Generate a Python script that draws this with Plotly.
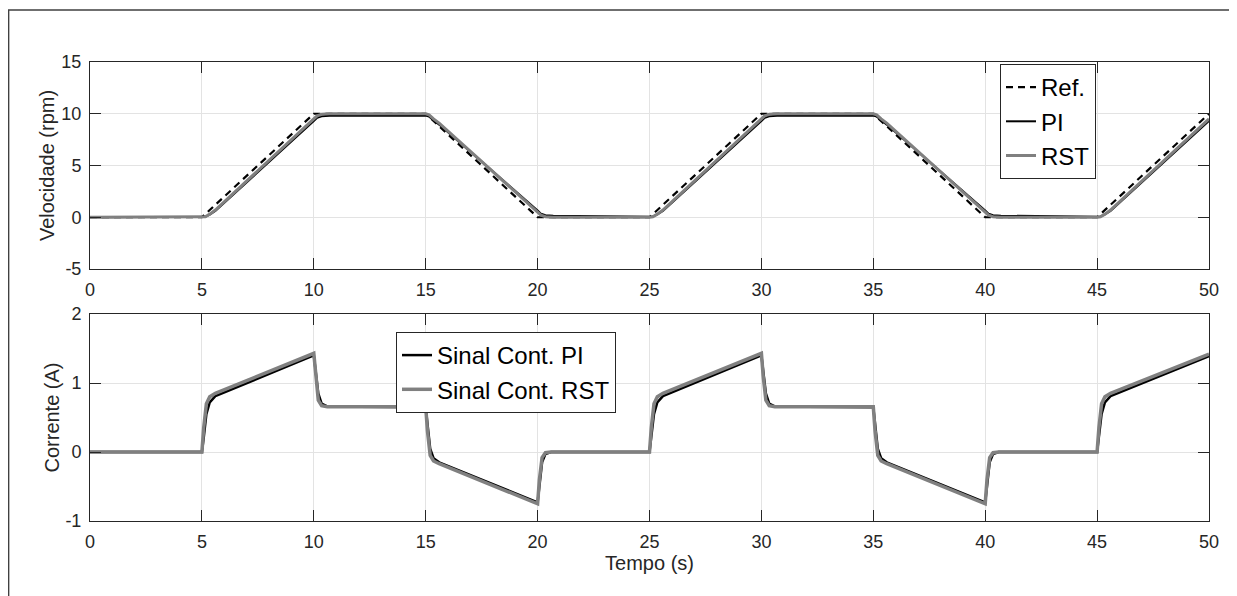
import plotly.graph_objects as go

# ---------------- data ----------------
# Velocity reference
t_ref = [0, 5, 10, 15, 20, 25, 30, 35, 40, 45, 50]
v_ref = [0, 0, 10, 10, 0, 0, 10, 10, 0, 0, 10]

# Velocity responses
t_vel = [0, 5, 5.15, 5.35, 5.6, 10, 10.15, 10.35, 10.7, 15, 15.15, 15.35, 15.6,
         20, 20.15, 20.35, 20.7,
         25, 25.15, 25.35, 25.6, 30, 30.15, 30.35, 30.7, 35, 35.15, 35.35, 35.6,
         40, 40.15, 40.35, 40.7,
         45, 45.15, 45.35, 45.6, 50]
v_pi = [0, 0, 0.04, 0.25, 0.6, 9.3, 9.6, 9.75, 9.8, 9.82, 9.72, 9.4, 8.95,
        0.65, 0.35, 0.2, 0.15,
        0.05, 0.08, 0.28, 0.62, 9.3, 9.6, 9.75, 9.8, 9.82, 9.72, 9.4, 8.95,
        0.65, 0.35, 0.2, 0.15,
        0.05, 0.08, 0.28, 0.62, 9.3]
v_rst = [0, 0, 0.05, 0.3, 0.7, 9.5, 9.8, 9.95, 10.0, 10.0, 9.9, 9.5, 9.1,
         0.5, 0.2, 0.05, 0.0,
         0.0, 0.05, 0.3, 0.7, 9.5, 9.8, 9.95, 10.0, 10.0, 9.9, 9.5, 9.1,
         0.5, 0.2, 0.05, 0.0,
         0.0, 0.05, 0.3, 0.7, 9.5]

# Control signal (current)
t_cur = [0, 5, 5.08, 5.2, 5.35, 5.6, 10, 10.08, 10.2, 10.35, 10.6,
         15, 15.08, 15.2, 15.35, 15.6, 20, 20.08, 20.2, 20.35, 20.6,
         25, 25.08, 25.2, 25.35, 25.6, 30, 30.08, 30.2, 30.35, 30.6,
         35, 35.08, 35.2, 35.35, 35.6, 40, 40.08, 40.2, 40.35, 40.6,
         45, 45.08, 45.2, 45.35, 45.6, 50]
i_pi = [0, 0, 0.20, 0.55, 0.72, 0.81, 1.40, 1.20, 0.85, 0.70, 0.66,
        0.65, 0.40, 0.05, -0.09, -0.15, -0.73, -0.50, -0.15, -0.03, 0.0,
        0.0, 0.20, 0.55, 0.72, 0.81, 1.40, 1.20, 0.85, 0.70, 0.66,
        0.65, 0.40, 0.05, -0.09, -0.15, -0.73, -0.50, -0.15, -0.03, 0.0,
        0.0, 0.20, 0.55, 0.72, 0.81, 1.39]
i_rst = [0, 0, 0.35, 0.70, 0.80, 0.85, 1.43, 1.10, 0.75, 0.67, 0.655,
         0.655, 0.30, -0.05, -0.13, -0.17, -0.75, -0.40, -0.08, -0.01, 0.0,
         0.0, 0.35, 0.70, 0.80, 0.85, 1.43, 1.10, 0.75, 0.67, 0.655,
         0.655, 0.30, -0.05, -0.13, -0.17, -0.75, -0.40, -0.08, -0.01, 0.0,
         0.0, 0.35, 0.70, 0.80, 0.85, 1.42]

x_ticks = [0, 5, 10, 15, 20, 25, 30, 35, 40, 45, 50]
y1_ticks = [-5, 0, 5, 10, 15]
y1_labels = ["-5", "0", "5", "10", "15"]
y2_ticks = [-1, 0, 1, 2]
y2_labels = ["-1", "0", "1", "2"]

# ---------------- figure ----------------
OFF = 8                       # page body margin of the html page
W, H = 1237 - OFF, 596 - OFF  # figure size so that it fills the window
FONT = "Liberation Sans, Arial, sans-serif"
AX = "#262626"
GRID = "#e3e3e3"
GRAY = "#808080"


def px(x):   # screen x -> paper fraction
    return (x - OFF) / W


def py(y):   # screen y -> paper fraction
    return (H - (y - OFF)) / H


fig = go.Figure()
fig.add_trace(go.Scatter(x=t_ref, y=v_ref, mode="lines", name="Ref.",
                         line=dict(color="black", width=2.2, dash="7px,5px"),
                         xaxis="x", yaxis="y", legend="legend"))
fig.add_trace(go.Scatter(x=t_vel, y=v_pi, mode="lines", name="PI",
                         line=dict(color="black", width=2),
                         xaxis="x", yaxis="y", legend="legend"))
fig.add_trace(go.Scatter(x=t_vel, y=v_rst, mode="lines", name="RST",
                         line=dict(color=GRAY, width=3),
                         xaxis="x", yaxis="y", legend="legend"))
fig.add_trace(go.Scatter(x=t_cur, y=i_pi, mode="lines", name="Sinal Cont. PI",
                         line=dict(color="black", width=2.5),
                         xaxis="x2", yaxis="y2", legend="legend2"))
fig.add_trace(go.Scatter(x=t_cur, y=i_rst, mode="lines", name="Sinal Cont. RST",
                         line=dict(color=GRAY, width=3.5),
                         xaxis="x2", yaxis="y2", legend="legend2"))

x0, x1 = px(90), px(1209)
top_dom = [py(269), py(62)]
bot_dom = [py(521), py(314)]

common = dict(showline=True, linecolor=AX, linewidth=1, mirror="ticks",
              ticks="inside", ticklen=11, tickcolor=AX, tickwidth=1,
              showgrid=True, gridcolor=GRID, gridwidth=1, zeroline=False,
              automargin=False,
              tickfont=dict(family=FONT, size=18, color=AX))

fig.update_layout(
    width=W, height=H,
    margin=dict(l=0, r=0, t=0, b=0, autoexpand=False),
    paper_bgcolor="white", plot_bgcolor="white",
    font=dict(family=FONT, color=AX),
    xaxis=dict(domain=[x0, x1], anchor="y", range=[0, 50], tickvals=x_ticks,
               ticklabelstandoff=4, **common),
    yaxis=dict(domain=top_dom, anchor="x", range=[-5, 15], tickvals=y1_ticks,
               ticktext=y1_labels, ticklabelstandoff=4,
               title=dict(text="Velocidade (rpm)", font=dict(family=FONT, size=20, color=AX),
                          standoff=1),
               **common),
    xaxis2=dict(domain=[x0, x1], anchor="y2", range=[0, 50], tickvals=x_ticks,
                ticklabelstandoff=4,
                title=dict(text="Tempo (s)", font=dict(family=FONT, size=20, color=AX),
                           standoff=4),
                **common),
    yaxis2=dict(domain=bot_dom, anchor="x2", range=[-1, 2], tickvals=y2_ticks,
                ticktext=y2_labels, ticklabelstandoff=4,
                title=dict(text="Corrente (A)", font=dict(family=FONT, size=20, color=AX),
                           standoff=0),
                **common),
    legend=dict(x=px(1000), y=py(64), xanchor="left", yanchor="top",
                bgcolor="white", bordercolor=AX, borderwidth=1,
                font=dict(family=FONT, size=24, color="black"),
                itemwidth=30, tracegroupgap=0),
    legend2=dict(x=px(396), y=py(332), xanchor="left", yanchor="top",
                 bgcolor="white", bordercolor=AX, borderwidth=1,
                 font=dict(family=FONT, size=24, color="black"),
                 itemwidth=30, tracegroupgap=0),
    shapes=[dict(type="rect", xref="paper", yref="paper",
                 x0=px(8) + 0.0005, x1=px(1235), y0=-0.2, y1=py(10),
                 line=dict(color="#404040", width=1.5), layer="above")],
)

fig.write_html("out.html")
